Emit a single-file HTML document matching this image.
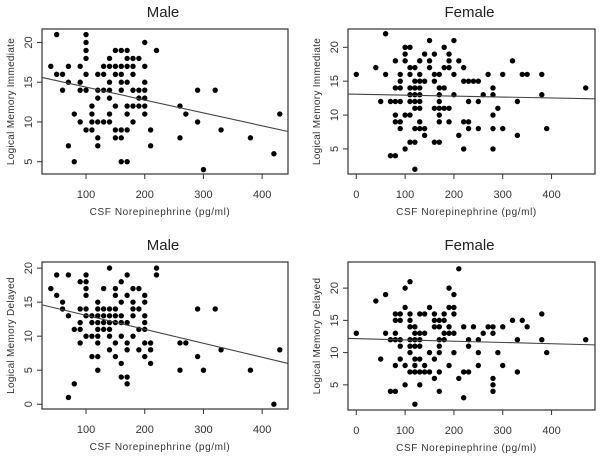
<!DOCTYPE html>
<html><head><meta charset="utf-8"><style>
body{margin:0;background:#fff}
svg{display:block;font-family:"Liberation Sans",Arial,sans-serif}
</style></head><body>
<svg id="c" width="601" height="456" viewBox="0 0 601 456"></svg>
<script>
// Male / Logical Memory Immediate: x values and the y values at each x
const maleImmX = [40,50,60,70,80,90,100,110,120,130,140,150,160,170,180,190,200,210,220,260,270,290,300,320,330,380,420,430];
const maleImmY = [[17],[21,16],[16,14],[17,15,7],[11,5],[17,15,14,10],[21,20,19,18,16,14,9],[12,11,10,9],[16,14,13,10,8,7],[17,16,14,10],[18,17,15,14,13,11,10],[19,17,16,12,9,8],[19,17,16,15,14,9,8,5],[19,18,17,15,12,11,9,5],[18,17,16,14,12,10],[18,14,13,12],[20,17,15,14,13,12,11],[9,7],[19],[12,8],[11],[14,10],[4],[14],[9],[8],[6],[11]];
// Female / Logical Memory Immediate
const femImmX = [0,40,50,60,70,80,90,100,110,120,130,140,150,160,170,180,190,200,210,220,230,240,250,260,270,280,290,300,320,330,340,350,380,390,470];
const femImmY = [[16],[17],[12],[22,16],[12,4],[18,14,12,10,9,4],[16,15,14,12,9,8],[20,19,18,10,5],[20,17,16,14,13,12,10,6],[17,15,14,13,12,11,8,6,2],[18,16,15,14,13,12,11,9,8],[19,15,8,7],[21,18,17],[19,16,15,11,6],[16,14,13,12,11,10,9,6],[20,17,14,11],[19,18,17,11,9],[21,16,13],[18,7],[17,15,9,5],[15,12,9,8],[15],[15,12,8],[13],[16],[14,13,10,8,5],[11],[16,8],[18],[12,7],[16],[16],[16,13],[8],[14]];
// Male / Logical Memory Delayed
const maleDelX = [40,50,60,70,80,90,100,110,120,130,140,150,160,170,180,190,200,210,220,260,270,290,300,320,330,380,420,430];
const maleDelY = [[17],[19,16],[15,14],[19,13,1],[11,3],[18,14,12,11,9],[19,18,17,16,14,13,10],[13,12,10,7],[15,14,13,12,11,10,9,7,5],[17,14,13,12,11],[20,14,13,12,11,10,8],[17,16,14,13,12,9,7],[18,15,13,12,10,6,4],[19,16,12,9,8,4,3],[17,15,14,13,10],[17,14,11,8],[16,15,13,12,11,9,7],[9,8,6],[20,19],[9,5],[9],[14,7],[5],[14],[8],[5],[0],[8]];
// Female / Logical Memory Delayed
const femDelX = [0,40,50,60,70,80,90,100,110,120,130,140,150,160,170,180,190,200,210,220,230,240,250,260,270,280,290,300,320,330,340,350,380,390,470];
const femDelY = [[13],[18],[9],[19,13],[12,4],[16,15,13,12,8,4],[16,15,12,11,9],[20,17,8,5],[21,16,15,14,12,11,10,7],[14,13,12,11,9,8,7,2],[16,13,12,11,9,7,5],[16,13,8,7],[17,10,7],[16,15,14,9,6],[15,14,12,11,10,7,4],[16,15,13,12],[20,17,14,13,8],[19,17,16,13,10],[23,6],[14,7,3],[12,11,7],[14],[12,10,8],[13],[14],[14,13,6,5,4],[10],[14,8],[15],[12,7],[15],[14],[16,12],[10],[12]];
// Fitted regression lines [value at left edge, value at right edge]
const maleImmFit = [15.6, 8.8];
const femImmFit = [13.1, 12.4];
const maleDelFit = [14.6, 6.0];
const femDelFit = [12.2, 11.2];
const xTicksMale = [100,200,300,400];
const xTicksFem = [0,100,200,300,400];
const yTicksImm = [5,10,15,20];
const yTicksMaleDel = [0,5,10,15,20];
const yTicksFemDel = [5,10,15,20];

const svg = document.getElementById('c');
const NS = 'http://www.w3.org/2000/svg';
function mk(tag, attrs, parent){const e=document.createElementNS(NS,tag);for(const k in attrs)e.setAttribute(k,attrs[k]);(parent||svg).appendChild(e);return e;}

function panel(p){
  const g = mk('g',{});
  
  
  const sx = v => p.L + (v - p.xmin) / (p.xmax - p.xmin) * (p.R - p.L);
  const sy = v => p.B - (v - p.ymin) / (p.ymax - p.ymin) * (p.B - p.T);
  const t = mk('text',{x:(p.L+p.R)/2 - 2, y:p.T-12, 'font-size':15, 'text-anchor':'middle', fill:'#222'}, g);
  t.textContent = p.title;
  
  
  const box = mk('rect',{x:p.L, y:p.T, width:p.R-p.L, height:p.B-p.T, fill:'none', stroke:'#333', 'stroke-width':1.2}, g);
  
  
  p.xt.forEach(v=>{
    const x = sx(v);
    mk('line',{x1:x,y1:p.B,x2:x,y2:p.B+5,stroke:'#333'},g);
    const l = mk('text',{x:x, y:p.B+24, 'font-size':11, 'text-anchor':'middle', fill:'#333'}, g);
    l.textContent = v;
    
    
  });
  p.yt.forEach(v=>{
    const y = sy(v);
    mk('line',{x1:p.L,y1:y,x2:p.L-5,y2:y,stroke:'#333'},g);
    const l = mk('text',{x:p.L-10, y:y, 'font-size':11, 'text-anchor':'middle', fill:'#333', transform:`rotate(-90 ${p.L-10} ${y})`}, g);
    l.textContent = v;
    
    
  });
  const xl = mk('text',{x:(p.L+p.R)/2 - 5, y:p.B+41, 'font-size':10, 'text-anchor':'middle', fill:'#333', 'letter-spacing':'0.6'}, g);
  xl.textContent = 'CSF Norepinephrine (pg/ml)';
  
  
  const yx = p.L - 28, yy = (p.T+p.B)/2;
  const yl = mk('text',{x:yx, y:yy, 'font-size':10, 'text-anchor':'middle', fill:'#333', 'letter-spacing':'0.3', transform:`rotate(-90 ${yx} ${yy})`}, g);
  yl.textContent = p.ylab;
  
  
  p.X.forEach((xv,i)=>{
    p.Y[i].forEach(yv=>{
      const c = mk('circle',{cx:sx(xv), cy:sy(yv), r:2.7, fill:'#000'}, g);
      
      
    });
  });
  const fl = mk('line',{x1:p.L, y1:sy(p.fit[0]), x2:p.R, y2:sy(p.fit[1]), stroke:'#444', 'stroke-width':1.1}, g);
  
  
}

panel({name:'male-immediate-panel', title:'Male', ylab:'Logical Memory Immediate', L:42, R:288, T:29, B:174, xmin:25, xmax:444, ymin:3.45, ymax:21.7, xt:xTicksMale, yt:yTicksImm, X:maleImmX, Y:maleImmY, fit:maleImmFit});
panel({name:'female-immediate-panel', title:'Female', ylab:'Logical Memory Immediate', L:348, R:595, T:29, B:174, xmin:-17, xmax:489, ymin:1.3, ymax:22.7, xt:xTicksFem, yt:yTicksImm, X:femImmX, Y:femImmY, fit:femImmFit});
panel({name:'male-delayed-panel', title:'Male', ylab:'Logical Memory Delayed', L:42, R:288, T:262, B:409, xmin:25, xmax:444, ymin:-0.7, ymax:20.9, xt:xTicksMale, yt:yTicksMaleDel, X:maleDelX, Y:maleDelY, fit:maleDelFit});
panel({name:'female-delayed-panel', title:'Female', ylab:'Logical Memory Delayed', L:348, R:595, T:262, B:410, xmin:-17, xmax:489, ymin:1.1, ymax:24.05, xt:xTicksFem, yt:yTicksFemDel, X:femDelX, Y:femDelY, fit:femDelFit});
</script>
</body></html>
